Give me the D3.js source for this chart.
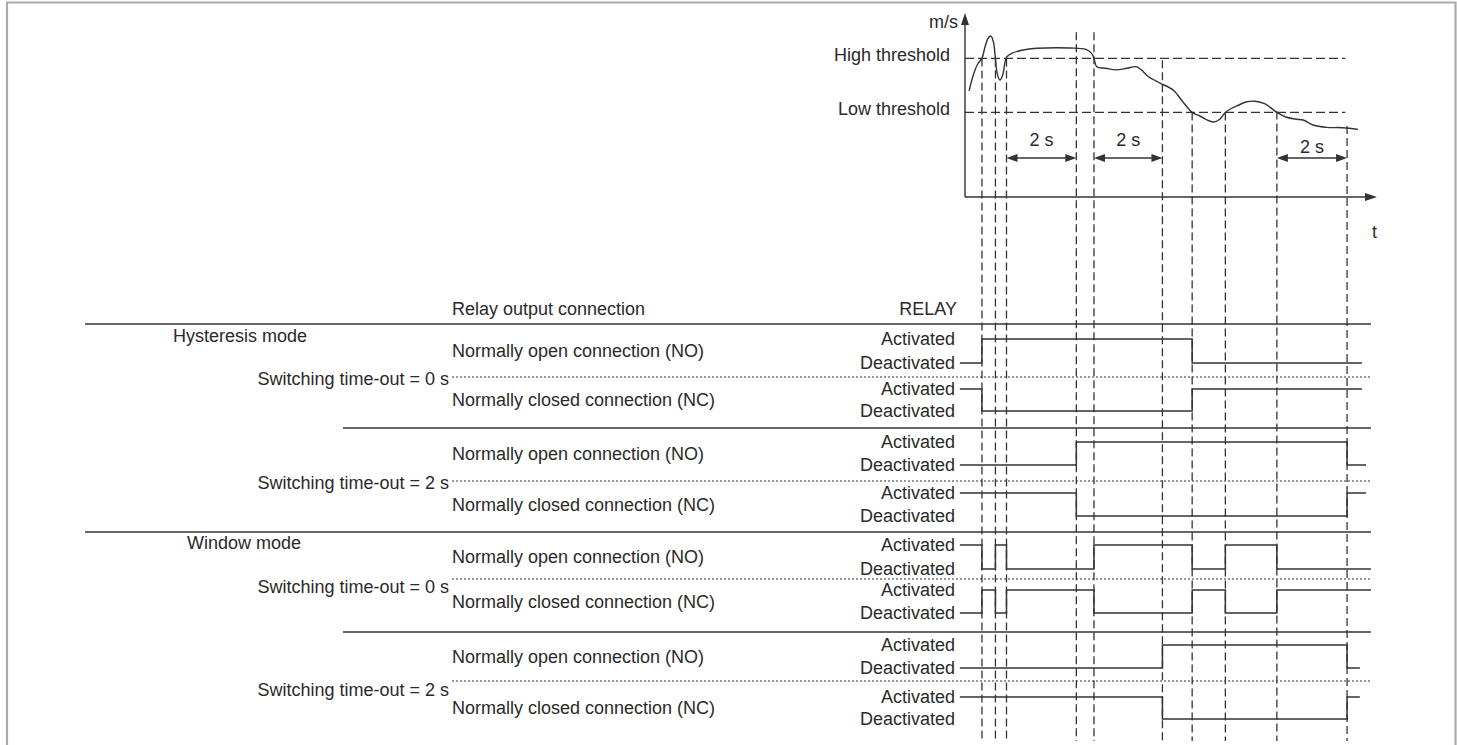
<!DOCTYPE html>
<html>
<head>
<meta charset="utf-8">
<script src="https://cdn.jsdelivr.net/npm/d3@7"></script>
<style>
  html, body { margin: 0; padding: 0; background: #fff; }
  svg { display: block; }
  text { font-family: "Liberation Sans", Arial, sans-serif; font-size: 18px; fill: #2a2a2a; }
</style>
</head>
<body>
<svg id="vis" width="1457" height="745"></svg>
<script>
// speed curve, t in s, v in m/s
const speedT = [0.12, 0.24, 0.38, 0.49, 0.58, 0.67, 0.75, 0.82, 0.88, 0.93, 1.01, 1.09, 1.16, 1.2, 1.35, 1.68, 2.07,
  3.04, 3.5, 3.66, 3.73, 3.81, 4.07, 4.38, 4.68, 4.95, 5.1, 5.31, 5.64, 6.02, 6.3, 6.57, 6.79, 7.18, 7.37, 7.53,
  7.71, 7.86, 8.15, 8.39, 8.68, 9.02, 9.3, 9.59, 9.78, 10.07, 10.46, 10.93, 11.37];
const speedV = [5.9, 6.78, 7.43, 7.7, 8.35, 8.82, 8.94, 8.63, 7.7, 6.87, 6.5, 6.78, 7.52, 7.76, 7.98, 8.17, 8.26,
  8.28, 8.2, 7.98, 7.7, 7.24, 7.15, 7.06, 7.15, 7.24, 7.06, 6.68, 6.33, 5.94, 5.29, 4.7, 4.5, 4.17, 4.32, 4.7,
  4.93, 5.06, 5.29, 5.32, 5.17, 4.7, 4.43, 4.32, 4.28, 4.0, 3.87, 3.85, 3.76];
const highThreshold = 7.7;
const lowThreshold = 4.7;
const thresholdLabels = ['High threshold', 'Low threshold'];

// switching instants (dashed verticals) and where each one starts on the speed plot
const eventT = [0.49, 0.88, 1.2, 3.22, 3.73, 5.71, 6.57, 7.53, 9.02, 11.05];
const eventTopV = [7.7, 7.7, 7.7, 9.15, 9.15, 7.6, 4.7, 4.7, 4.75, 3.95];
const delaySpans = [[1.2, 3.22], [3.73, 5.71], [9.02, 11.05]];
const delayLabels = ['2 s', '2 s', '2 s'];

const modes = ['Hysteresis mode', 'Window mode'];
const timeouts = ['Switching time-out = 0 s', 'Switching time-out = 2 s', 'Switching time-out = 0 s', 'Switching time-out = 2 s'];
const connections = ['Normally open connection (NO)', 'Normally closed connection (NC)'];
const states = ['Activated', 'Deactivated'];

// relay rows: initial state (1 = activated), events at which it toggles, end time
const relayStart = [0, 1, 0, 1, 1, 0, 0, 1];
const relayToggles = [[0, 6], [0, 6], [3, 9], [3, 9], [0, 1, 2, 4, 6, 7, 8], [0, 1, 2, 4, 6, 7, 8], [5, 9], [5, 9]];
const relayEndT = [11.48, 11.48, 11.6, 11.6, 11.74, 11.74, 11.42, 11.42];
const relayStartT = -0.15;

// layout
const rowLevels = [[339, 363], [389, 411], [442, 465], [493, 516], [545, 569], [590, 613], [645, 668], [697, 719]];
const blockLines = [324, 428, 532, 632];
const blockLineX = [85, 343, 85, 343];
const dottedLines = [377, 481, 579, 681];
const timeoutY = [379, 483, 587, 690];
const modeY = [336, 543];
const modeX = [173, 187];
const ink = '#333';

const svg = d3.select('#vis');

// frame
svg.append('path')
  .attr('d', 'M7,745V2.5H1455.5V745')
  .attr('fill', 'none')
  .attr('stroke', '#aaa')
  .attr('stroke-width', 2.2);

const x = d3.scaleLinear().domain([0, 11.8]).range([965, 1373]);
const y = d3.scaleLinear().domain([0, 10]).range([197, 17]);

// axes with arrows
svg.append('line').attr('x1', x(0)).attr('x2', x(0)).attr('y1', y(0)).attr('y2', 22)
  .attr('stroke', ink).attr('stroke-width', 1.4);
svg.append('path').attr('d', `M${x(0)},13L${x(0) + 4},25L${x(0) - 4},25Z`).attr('fill', ink);
svg.append('line').attr('x1', x(0)).attr('x2', 1366).attr('y1', y(0)).attr('y2', y(0))
  .attr('stroke', ink).attr('stroke-width', 1.4);
svg.append('path').attr('d', `M1377,${y(0)}L1365,${y(0) - 4}L1365,${y(0) + 4}Z`).attr('fill', ink);
svg.append('text').attr('x', 958).attr('y', 28).attr('text-anchor', 'end').text('m/s');
svg.append('text').attr('x', 1372).attr('y', 238).text('t');

// thresholds
const thresholds = [highThreshold, lowThreshold];
svg.selectAll('line.threshold').data(thresholds).enter().append('line')
  .attr('class', 'threshold')
  .attr('x1', x(0)).attr('x2', x(11.0))
  .attr('y1', d => y(d)).attr('y2', d => y(d))
  .attr('stroke', ink).attr('stroke-width', 1.3).attr('stroke-dasharray', '9,4');
svg.selectAll('text.threshold').data(thresholds).enter().append('text')
  .attr('class', 'threshold')
  .attr('x', 950).attr('y', d => y(d) + 3)
  .attr('text-anchor', 'end')
  .text((d, i) => thresholdLabels[i]);

// speed curve
const line = d3.line().x(d => x(d[0])).y(d => y(d[1])).curve(d3.curveCatmullRom.alpha(0.5));
svg.append('path')
  .datum(d3.zip(speedT, speedV))
  .attr('d', line)
  .attr('fill', 'none').attr('stroke', ink).attr('stroke-width', 1.4);

// switching instants
svg.selectAll('line.event').data(eventT).enter().append('line')
  .attr('class', 'event')
  .attr('x1', d => x(d)).attr('x2', d => x(d))
  .attr('y1', (d, i) => y(eventTopV[i])).attr('y2', 741)
  .attr('stroke', ink).attr('stroke-width', 1.3).attr('stroke-dasharray', '8,4');

// 2 s delay arrows
const arrowY = 158;
const spans = svg.selectAll('g.delay').data(delaySpans).enter().append('g').attr('class', 'delay');
spans.append('line')
  .attr('x1', d => x(d[0]) + 4).attr('x2', d => x(d[1]) - 4)
  .attr('y1', arrowY).attr('y2', arrowY)
  .attr('stroke', ink).attr('stroke-width', 1.4);
spans.append('path')
  .attr('d', d => `M${x(d[0])},${arrowY}L${x(d[0]) + 11},${arrowY - 4}L${x(d[0]) + 11},${arrowY + 4}Z` +
    `M${x(d[1])},${arrowY}L${x(d[1]) - 11},${arrowY - 4}L${x(d[1]) - 11},${arrowY + 4}Z`)
  .attr('fill', ink);
spans.append('text')
  .attr('x', d => (x(d[0]) + x(d[1])) / 2)
  .attr('y', (d, i) => i === 2 ? 153 : 146)
  .attr('text-anchor', 'middle')
  .text((d, i) => delayLabels[i]);

// relay table headers
svg.append('text').attr('x', 452).attr('y', 315).text('Relay output connection');
svg.append('text').attr('x', 957).attr('y', 315).attr('text-anchor', 'end').text('RELAY');

svg.selectAll('line.block').data(blockLines).enter().append('line')
  .attr('class', 'block')
  .attr('x1', (d, i) => blockLineX[i]).attr('x2', 1371)
  .attr('y1', d => d).attr('y2', d => d)
  .attr('stroke', ink).attr('stroke-width', 1.3);
svg.selectAll('line.dotted').data(dottedLines).enter().append('line')
  .attr('class', 'dotted')
  .attr('x1', 452).attr('x2', 1371)
  .attr('y1', d => d).attr('y2', d => d)
  .attr('stroke', ink).attr('stroke-width', 1.1).attr('stroke-dasharray', '2,2');

svg.selectAll('text.mode').data(modes).enter().append('text')
  .attr('class', 'mode')
  .attr('x', (d, i) => modeX[i]).attr('y', (d, i) => modeY[i] + 6)
  .text(d => d);
svg.selectAll('text.timeout').data(timeouts).enter().append('text')
  .attr('class', 'timeout')
  .attr('x', 449).attr('y', (d, i) => timeoutY[i] + 6)
  .attr('text-anchor', 'end')
  .text(d => d);

// relay rows
const rows = svg.selectAll('g.relay').data(relayStart).enter().append('g').attr('class', 'relay');
rows.append('text')
  .attr('x', 452).attr('y', (d, i) => (rowLevels[i][0] + rowLevels[i][1]) / 2 + 6)
  .text((d, i) => connections[i % 2]);
rows.selectAll('text.state').data((d, i) => states.map((s, k) => ({ s, y: rowLevels[i][k] })))
  .enter().append('text')
  .attr('class', 'state')
  .attr('x', 955).attr('y', d => d.y + 6)
  .attr('text-anchor', 'end')
  .text(d => d.s);

const stepLine = d3.line().curve(d3.curveStepAfter);
rows.append('path')
  .attr('d', (s0, i) => {
    const lv = rowLevels[i];
    let s = s0;
    const pts = [[x(relayStartT), lv[s ? 0 : 1]]];
    relayToggles[i].forEach(k => {
      s = 1 - s;
      pts.push([x(eventT[k]), lv[s ? 0 : 1]]);
    });
    pts.push([x(relayEndT[i]), lv[s ? 0 : 1]]);
    return stepLine(pts);
  })
  .attr('fill', 'none').attr('stroke', ink).attr('stroke-width', 1.5);
</script>
</body>
</html>
